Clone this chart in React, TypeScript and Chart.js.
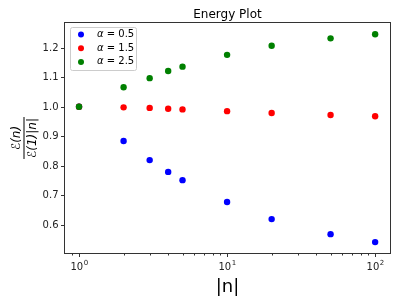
import React, { useEffect, useRef } from "react";
import { Chart, registerables } from "chart.js";

Chart.register(...registerables);

const nValues = [1, 2, 3, 4, 5, 10, 20, 50, 100];
const alpha05 = [1.0, 0.884, 0.819, 0.779, 0.751, 0.677, 0.619, 0.568, 0.541];
const alpha15 = [1.0, 0.998, 0.996, 0.993, 0.991, 0.985, 0.979, 0.972, 0.968];
const alpha25 = [1.0, 1.066, 1.097, 1.121, 1.136, 1.176, 1.207, 1.232, 1.246];
const seriesLabels = ["0.5", "1.5", "2.5"];
const seriesColors = ["#0000ff", "#ff0000", "#008000"];
const yTicks = [0.6, 0.7, 0.8, 0.9, 1.0, 1.1, 1.2];
const xMajorExp = [0, 1, 2];
const titleText = "Energy Plot";
const xLabel = "|n|";

const FONT = "'DejaVu Sans', sans-serif";

const axesPlugin = {
  id: "mplAxes",
  afterDraw(chart: any) {
    const ctx = chart.ctx as CanvasRenderingContext2D;
    const { left, right, top, bottom } = chart.chartArea;
    const xs = chart.scales.x;
    const ys = chart.scales.y;
    ctx.save();
    const axisColor = "#333";
    ctx.strokeStyle = axisColor;
    ctx.lineWidth = 1;
    ctx.strokeRect(Math.round(left) - 0.5, Math.round(top) - 0.5, Math.round(right - left) + 1, Math.round(bottom - top) + 1);

    // x ticks
    const xb = Math.round(bottom) + 0.5;
    ctx.fillStyle = "#222";
    for (let e = -1; e <= 2; e++) {
      for (let m = 1; m <= 9; m++) {
        const v = m * Math.pow(10, e);
        if (v < xs.min || v > xs.max) continue;
        const px = Math.round(xs.getPixelForValue(v)) + 0.5;
        const len = m === 1 ? 3.5 : 2;
        ctx.beginPath();
        ctx.moveTo(px, xb);
        ctx.lineTo(px, xb + len);
        ctx.stroke();
      }
    }
    for (const e of xMajorExp) {
      const px = xs.getPixelForValue(Math.pow(10, e));
      ctx.font = `10px ${FONT}`;
      const w1 = ctx.measureText("10").width;
      ctx.font = `7px ${FONT}`;
      const w2 = ctx.measureText(String(e)).width;
      const x0 = px - (w1 + w2) / 2;
      ctx.textAlign = "left";
      ctx.textBaseline = "alphabetic";
      ctx.font = `10px ${FONT}`;
      ctx.fillText("10", x0, bottom + 17);
      ctx.font = `7px ${FONT}`;
      ctx.fillText(String(e), x0 + w1 + 0.5, bottom + 12);
    }

    // y ticks
    ctx.font = `10px ${FONT}`;
    ctx.textAlign = "right";
    ctx.textBaseline = "middle";
    const yl = Math.round(left) - 0.5;
    for (const t of yTicks) {
      const py = Math.round(ys.getPixelForValue(t)) + 0.5;
      ctx.beginPath();
      ctx.moveTo(yl, py);
      ctx.lineTo(yl - 3.5, py);
      ctx.stroke();
      ctx.fillText(t.toFixed(1), yl - 6, py);
    }

    // title
    ctx.font = `12px ${FONT}`;
    ctx.fillStyle = "#000";
    ctx.textAlign = "center";
    ctx.textBaseline = "alphabetic";
    ctx.fillText(titleText, (left + right) / 2, 18);

    // x label
    ctx.font = `18px ${FONT}`;
    ctx.fillText(xLabel, (left + right) / 2, 292);

    // y label (fraction, rotated)
    ctx.save();
    ctx.translate(24, (top + bottom) / 2);
    ctx.rotate(-Math.PI / 2);
    ctx.font = `italic 12px ${FONT}`;
    const num = "ℰ(n)";
    const den = "ℰ(1)|n|";
    const wn = ctx.measureText(num).width;
    const wd = ctx.measureText(den).width;
    const lw = Math.max(wn, wd) + 2;
    ctx.fillStyle = "#000";
    ctx.fillRect(-lw / 2, -0.5, lw, 1);
    ctx.textAlign = "center";
    ctx.textBaseline = "alphabetic";
    ctx.fillText(num, 0, -4);
    ctx.fillText(den, 0, 12);
    ctx.restore();

    // legend
    const lx = 70, ly = 27, lwid = 66, lh = 43;
    ctx.fillStyle = "rgba(255,255,255,0.8)";
    ctx.strokeStyle = "#ccc";
    ctx.lineWidth = 1;
    ctx.beginPath();
    (ctx as any).roundRect ? (ctx as any).roundRect(lx + 0.5, ly + 0.5, lwid, lh, 2) : ctx.rect(lx + 0.5, ly + 0.5, lwid, lh);
    ctx.fill();
    ctx.stroke();
    for (let i = 0; i < seriesLabels.length; i++) {
      const cy = 34.5 + i * 13.7;
      ctx.fillStyle = seriesColors[i];
      ctx.beginPath();
      ctx.arc(81, cy, 3, 0, Math.PI * 2);
      ctx.fill();
      ctx.fillStyle = "#000";
      ctx.textAlign = "left";
      ctx.textBaseline = "middle";
      ctx.font = `italic 10px ${FONT}`;
      ctx.fillText("α", 97, cy);
      const wa = ctx.measureText("α").width;
      ctx.font = `10px ${FONT}`;
      ctx.fillText(" = " + seriesLabels[i], 97 + wa, cy);
    }
    ctx.restore();
  },
};

export default function App() {
  const ref = useRef<HTMLCanvasElement>(null);
  useEffect(() => {
    if (!ref.current) return;
    const mk = (vals: number[], i: number) => ({
      label: "α = " + seriesLabels[i],
      data: nValues.map((n, k) => ({ x: n, y: vals[k] })),
      backgroundColor: seriesColors[i],
      borderColor: seriesColors[i],
      pointRadius: 3.2,
      pointBorderWidth: 0,
      showLine: false,
      order: seriesLabels.length - 1 - i,
    });
    const chart = new Chart(ref.current, {
      type: "scatter",
      data: {
        datasets: [mk(alpha05, 0), mk(alpha15, 1), mk(alpha25, 2)],
      },
      options: {
        animation: false,
        responsive: false,
        devicePixelRatio: 1,
        layout: { padding: { left: 65, right: 11, top: 23, bottom: 48 } },
        plugins: { legend: { display: false }, tooltip: { enabled: false }, title: { display: false } },
        scales: {
          x: { type: "logarithmic", min: 0.804, max: 126, display: false },
          y: { type: "linear", min: 0.504, max: 1.284, display: false },
        },
      },
      plugins: [axesPlugin],
    });
    return () => chart.destroy();
  }, []);
  return (
    <div style={{ position: "fixed", left: 0, top: 0, width: 401, height: 301, background: "#fff" }}>
      <canvas ref={ref} width={401} height={301} style={{ width: 401, height: 301 }} />
    </div>
  );
}
